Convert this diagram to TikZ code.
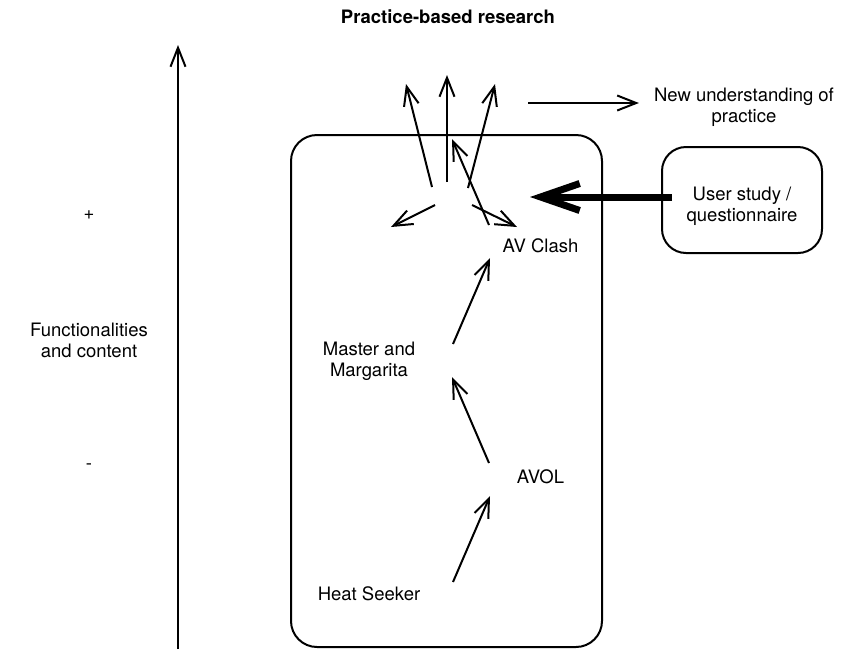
\documentclass[tikz,border=0pt]{standalone}
\usepackage{fontspec}
\setmainfont{TeX Gyre Heros}
\usetikzlibrary{arrows.meta,calc}
\begin{document}
\begin{tikzpicture}[x=1pt,y=-1pt,
  every node/.style={font=\fontsize{18.5}{21}\selectfont, inner sep=0pt},
  caption/.style={align=center},
  link/.style={line width=2pt, -{Straight Barb[length=19pt,width=15pt]}},
  heavy/.style={line width=7pt, -{Straight Barb[length=39pt,width=27pt]}},
  panel/.style={draw, line width=2pt}]
\useasboundingbox (0,0) rectangle (860,649);

% frames
\node[panel, rounded corners=26pt, minimum width=311pt, minimum height=512pt] (works) at (446.5,391) {};
\node[panel, rounded corners=24pt, minimum width=160pt, minimum height=106pt] (study) at (742,200) {};

% labels
\node (title) at (448,16.3) {\bfseries Practice-based research};
\node[caption] (newund) at (744,107.7) {New understanding of\\practice};
\node[caption] (studytext) at (742,206) {User study /\\questionnaire};
\node[caption] (axislabel) at (89,340.7) {Functionalities\\and content};
\node (plus) at (89,215) {+};
\node (minus) at (89,467) {-};
\node (avclash) at (540.5,245.3) {AV Clash};
\node[caption] (master) at (369,361.7) {Master and\\Margarita};
\node (avol) at (540.5,476.4) {AVOL};
\node (heat) at (369,593.3) {Heat Seeker};

% vertical axis
\coordinate (axisFoot) at (178,649);
\coordinate (axisTop) at (178,45);
\draw[link] (axisFoot) -- (axisTop);

% development chain
\coordinate (heatOut) at (453,582);
\coordinate (avolIn) at (490,496);
\coordinate (avolOut) at (489,463);
\coordinate (masterIn) at (452,377);
\coordinate (masterOut) at (453,344);
\coordinate (clashIn) at (490,258);
\draw[link] (heatOut) -- (avolIn);
\draw[link] (avolOut) -- (masterIn);
\draw[link] (masterOut) -- (clashIn);

% burst of outcomes above AV Clash
\coordinate (b1s) at (432,187);  \coordinate (b1e) at (406,84);
\coordinate (b2s) at (447,182);  \coordinate (b2e) at (447,75);
\coordinate (b3s) at (468,188);  \coordinate (b3e) at (495,84);
\coordinate (b4s) at (489,225);  \coordinate (b4e) at (452,139);
\coordinate (b5s) at (435,205);  \coordinate (b5e) at (391,227);
\coordinate (b6s) at (472,205);  \coordinate (b6e) at (517,227);
\draw[link] (b1s) -- (b1e);
\draw[link] (b2s) -- (b2e);
\draw[link] (b3s) -- (b3e);
\draw[link] (b4s) -- (b4e);
\draw[link] (b5s) -- (b5e);
\draw[link] (b6s) -- (b6e);

% towards new understanding
\coordinate (nuStart) at (528,103);
\draw[link, shorten >=15pt] (nuStart) -- (nuStart -| newund.west);

% feedback from the user study
\coordinate (hitPoint) at (530,197);
\draw[heavy] ($(study.west |- hitPoint)+(11,0)$) -- (hitPoint);
\end{tikzpicture}
\end{document}
